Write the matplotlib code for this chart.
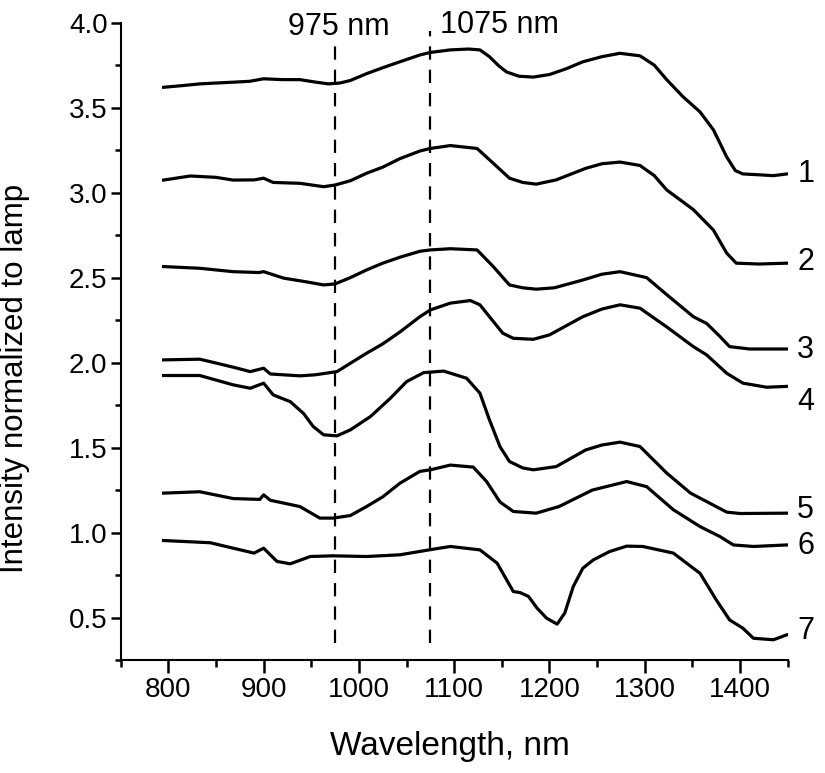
import matplotlib
matplotlib.use("Agg")
import matplotlib.pyplot as plt
from matplotlib.ticker import MultipleLocator

# spectra (wavelength in nm, intensity normalized to lamp)
wl_1 = [795, 815, 833, 850, 868, 885, 900, 920, 938, 955, 968, 980, 991, 1008, 1025, 1043, 1064, 1075, 1096, 1115,
        1127, 1137, 1147, 1155, 1168, 1183, 1200, 1218, 1235, 1255, 1274, 1295, 1310, 1323, 1340, 1358, 1372, 1386,
        1395, 1403, 1420, 1435, 1449]
int_1 = [3.62, 3.63, 3.64, 3.645, 3.65, 3.655, 3.67, 3.665, 3.665, 3.65, 3.64, 3.645, 3.66, 3.70, 3.735, 3.77, 3.81,
         3.825, 3.84, 3.845, 3.84, 3.80, 3.745, 3.71, 3.685, 3.68, 3.695, 3.73, 3.77, 3.80, 3.82, 3.805, 3.75, 3.665,
         3.565, 3.475, 3.37, 3.21, 3.13, 3.11, 3.105, 3.10, 3.11]

wl_2 = [795, 823, 850, 868, 890, 900, 910, 938, 963, 975, 991, 1008, 1025, 1043, 1064, 1075, 1096, 1124, 1141, 1158,
        1172, 1186, 1207, 1238, 1255, 1274, 1295, 1310, 1323, 1351, 1372, 1386, 1396, 1420, 1449]
int_2 = [3.074, 3.098, 3.09, 3.074, 3.075, 3.085, 3.06, 3.055, 3.035, 3.045, 3.07, 3.114, 3.15, 3.20, 3.245, 3.26,
         3.277, 3.26, 3.173, 3.085, 3.06, 3.05, 3.075, 3.143, 3.17, 3.18, 3.16, 3.10, 3.016, 2.90, 2.78, 2.644, 2.585,
         2.58, 2.585]

wl_3 = [795, 833, 868, 895, 900, 921, 945, 963, 975, 991, 1008, 1025, 1043, 1064, 1075, 1096, 1124, 1141, 1158, 1172,
        1186, 1205, 1235, 1255, 1274, 1302, 1323, 1351, 1365, 1379, 1389, 1410, 1449]
int_3 = [2.565, 2.555, 2.535, 2.53, 2.535, 2.497, 2.475, 2.457, 2.463, 2.50, 2.545, 2.585, 2.62, 2.655, 2.663, 2.67,
         2.663, 2.565, 2.457, 2.44, 2.432, 2.44, 2.486, 2.52, 2.535, 2.50, 2.40, 2.27, 2.23, 2.153, 2.094, 2.08, 2.08]

wl_4 = [795, 833, 851, 868, 886, 900, 907, 938, 954, 977, 991, 1008, 1025, 1043, 1064, 1075, 1096, 1117, 1127, 1137,
        1151, 1162, 1183, 1200, 1235, 1255, 1274, 1295, 1323, 1351, 1365, 1386, 1403, 1428, 1449]
int_4 = [2.016, 2.02, 1.996, 1.973, 1.947, 1.967, 1.933, 1.922, 1.928, 1.947, 1.996, 2.055, 2.11, 2.18, 2.27, 2.31,
         2.35, 2.365, 2.34, 2.27, 2.173, 2.143, 2.137, 2.163, 2.27, 2.315, 2.34, 2.32, 2.21, 2.094, 2.045, 1.937,
         1.879, 1.855, 1.86]

wl_5 = [795, 833, 868, 886, 900, 910, 928, 942, 952, 963, 977, 991, 1012, 1033, 1050, 1068, 1089, 1113, 1127, 1137,
        1148, 1158, 1172, 1183, 1207, 1238, 1255, 1274, 1295, 1323, 1348, 1365, 1386, 1400, 1449]
int_5 = [1.924, 1.924, 1.869, 1.849, 1.879, 1.81, 1.77, 1.70, 1.624, 1.575, 1.569, 1.604, 1.682, 1.79, 1.888, 1.941,
         1.95, 1.908, 1.82, 1.663, 1.506, 1.418, 1.38, 1.369, 1.388, 1.486, 1.515, 1.532, 1.506, 1.35, 1.232, 1.182,
         1.12, 1.112, 1.114]

wl_6 = [795, 833, 868, 896, 900, 907, 938, 959, 973, 991, 1008, 1025, 1043, 1064, 1075, 1096, 1120, 1134, 1148, 1162,
        1186, 1210, 1245, 1281, 1302, 1330, 1358, 1379, 1393, 1414, 1449]
int_6 = [1.232, 1.24, 1.20, 1.195, 1.222, 1.19, 1.153, 1.085, 1.085, 1.10, 1.153, 1.21, 1.29, 1.36, 1.369, 1.397,
         1.385, 1.30, 1.18, 1.124, 1.114, 1.153, 1.25, 1.30, 1.27, 1.134, 1.035, 0.976, 0.927, 0.918, 0.927]

wl_7 = [795, 844, 868, 890, 900, 914, 928, 949, 973, 1008, 1043, 1078, 1096, 1127, 1145, 1155, 1162, 1169, 1178, 1187,
        1197, 1208, 1216, 1225, 1235, 1246, 1263, 1281, 1298, 1330, 1358, 1375, 1389, 1403, 1414, 1435, 1449]
int_7 = [0.953, 0.94, 0.908, 0.879, 0.908, 0.83, 0.816, 0.859, 0.863, 0.859, 0.869, 0.902, 0.918, 0.898, 0.82, 0.722,
         0.653, 0.647, 0.624, 0.555, 0.496, 0.461, 0.526, 0.683, 0.79, 0.839, 0.888, 0.92, 0.918, 0.879, 0.76, 0.604,
         0.486, 0.437, 0.378, 0.369, 0.398]

curve_labels = ["1", "2", "3", "4", "5", "6", "7"]
label_y = [3.11, 2.59, 2.075, 1.77, 1.133, 0.923, 0.423]
marker_wl = [975, 1075]
marker_text = ["975 nm", "1075 nm"]

plt.rcParams['font.family'] = ['Liberation Sans', 'DejaVu Sans']

fig = plt.figure(figsize=(8.25, 7.73), dpi=100)
ax = fig.add_axes([120.7 / 825, 1 - 660 / 773, 667 / 825, 637.3 / 773])

for wl, inten in zip([wl_1, wl_2, wl_3, wl_4, wl_5, wl_6, wl_7], [int_1, int_2, int_3, int_4, int_5, int_6, int_7]):
    ax.plot(wl, inten, color="black", lw=2.3, solid_joinstyle="round")

ax.vlines(marker_wl[0], 0.35, 3.86, colors="black", linestyles=(0, (6, 4.5)), lw=1.6)
ax.vlines(marker_wl[1], 0.35, 3.95, colors="black", linestyles=(0, (6, 4.5)), lw=1.6)
ax.text(979, 3.928, marker_text[0], ha="center", va="baseline", fontsize=22)
ax.text(1147, 3.94, marker_text[1], ha="center", va="baseline", fontsize=22)

for lab, y in zip(curve_labels, label_y):
    ax.text(1460, y, lab, ha="left", va="center", fontsize=22, clip_on=False)

ax.set_xlim(750, 1450)
ax.set_ylim(0.25, 4.0)
ax.xaxis.set_major_locator(MultipleLocator(100))
ax.xaxis.set_minor_locator(MultipleLocator(50))
ax.yaxis.set_major_locator(MultipleLocator(0.5))
ax.yaxis.set_minor_locator(MultipleLocator(0.25))
ax.yaxis.set_major_formatter(plt.FuncFormatter(lambda v, p: "%.1f" % v))

for s in ["top", "right"]:
    ax.spines[s].set_visible(False)
for s in ["left", "bottom"]:
    ax.spines[s].set_linewidth(1.5)

ax.tick_params(axis="x", which="major", direction="out", length=9.5, width=1.8, pad=3, labelsize=20)
ax.tick_params(axis="x", which="minor", direction="out", length=5, width=1.8)
ax.tick_params(axis="y", which="major", direction="out", length=7.5, width=1.8, pad=2, labelsize=20)
ax.tick_params(axis="y", which="minor", direction="out", length=4.5, width=1.8)

fig.text(450 / 825, 1 - 746 / 773, "Wavelength, nm", ha="center", va="center", fontsize=24)
fig.text(15 / 825, 1 - 378 / 773, "Intensity normalized to lamp", ha="center", va="center",
         rotation=90, fontsize=22.5)

plt.savefig("out.png", dpi=100)
